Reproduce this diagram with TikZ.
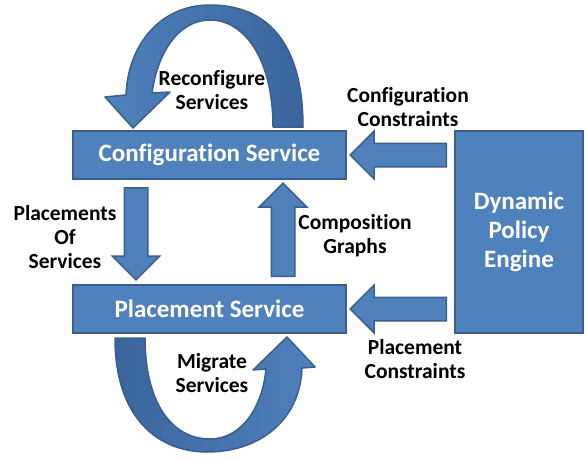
\documentclass[tikz,border=0pt]{standalone}
\usepackage{fontspec}
\setmainfont{Carlito}[Ligatures=NoCommon]
\usepackage{tikz}
\usetikzlibrary{calc,positioning,shapes.arrows}
\definecolor{boxblue}{HTML}{4F81BD}
\definecolor{boxline}{HTML}{3A5F8C}
\definecolor{darkblue}{HTML}{3A659C}

\begin{document}
\begin{tikzpicture}[x=1pt,y=-1pt,
  svcbox/.style={draw=boxline,fill=boxblue,line width=2pt,text=white,font=\fontsize{25}{29}\selectfont\bfseries,align=center},
  blockarrow/.style={single arrow,draw=boxline,fill=boxblue,line width=1.5pt,inner sep=11pt,minimum width=46pt,single arrow head extend=12pt,single arrow head indent=0pt},
  lbl/.style={font=\fontsize{21.5}{24}\selectfont\bfseries,align=center,inner sep=0pt},
  loopband/.style={draw=boxline,line width=1.5pt,line join=round}]
\useasboundingbox (0,0) rectangle (585,460);

\node[svcbox,minimum width=273pt,minimum height=48pt] (cfg) at (209.5,155) {Configuration Service};
\node[svcbox,minimum width=273pt,minimum height=48pt] (plc) at (209.5,309) {Placement Service};
\node[svcbox,minimum width=128pt,minimum height=202pt] (engine) at (519,232) {Dynamic\\Policy\\Engine};

\node[blockarrow,rotate=180,minimum height=96pt,anchor=tail] (cc) at ([xshift=-7pt]engine.west |- cfg.east) {};
\node[blockarrow,rotate=180,minimum height=96pt,anchor=tail] (pc) at ([xshift=-7pt]engine.west |- plc.east) {};
\node[blockarrow,rotate=-90,minimum height=92pt,anchor=tail] (down) at ([xshift=-73.5pt,yshift=-7pt]cfg.south) {};
\node[blockarrow,rotate=90,minimum height=93pt,anchor=tail] (up) at ([xshift=73.5pt,yshift=7pt]plc.north) {};

\filldraw[loopband,left color=boxblue,right color=darkblue]
  (303,127) .. controls (303,40) and (265,5) .. (210,5)
  .. controls (160,5) and (128,45) .. (126,95)
  -- (105,97) -- (133,128) -- (170,92) -- (152,93)
  .. controls (158,50) and (180,20) .. (210,20)
  .. controls (245,20) and (273,60) .. (273,127) -- cycle;
\filldraw[loopband,left color=darkblue,right color=boxblue]
  (115,338) .. controls (115,420) and (160,452) .. (207,452)
  .. controls (260,452) and (300,420) .. (302,368)
  -- (315,367) -- (287,337) -- (253,370) -- (266,369)
  .. controls (262,410) and (240,439) .. (210,439)
  .. controls (170,439) and (145,400) .. (145,338) -- cycle;

\node[lbl] (reconf) at (212,90) {Reconfigure\\Services};
\node[lbl] (migr) at (212,373) {Migrate\\Services};
\node[lbl] (cclbl) at (408,107) {Configuration\\Constraints};
\node[lbl] (pclbl) at (415,359) {Placement\\Constraints};
\node[lbl] (pos) at (65,237) {Placements\\Of\\Services};
\node[lbl] (comp) at (355,236) {Composition\\Graphs};
\end{tikzpicture}
\end{document}
